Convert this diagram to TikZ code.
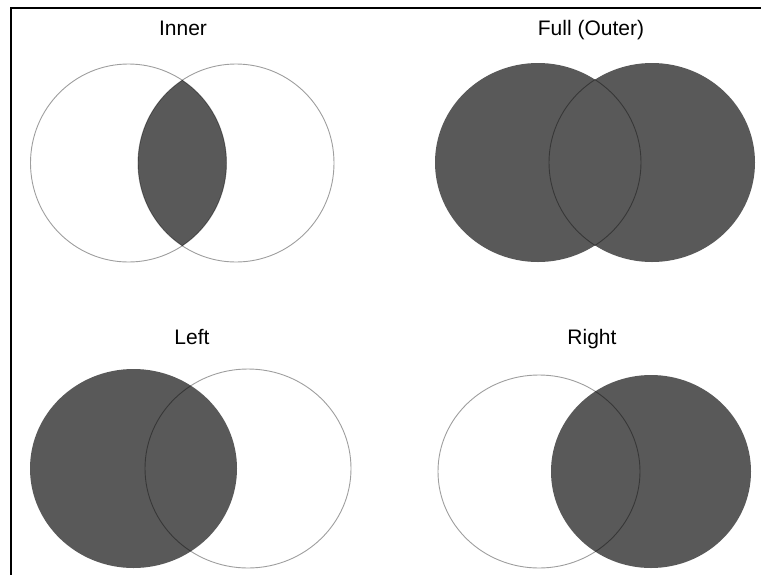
\documentclass[tikz,border=0pt]{standalone}
\usepackage{fontspec}
\setmainfont{Liberation Sans}
\definecolor{venn}{HTML}{595959}
\begin{document}
\begin{tikzpicture}[x=1pt,y=-1pt,
  outl/.style={draw=black,draw opacity=0.38,line width=0.9pt},
  venfill/.style={fill=venn},
  title/.style={anchor=base,inner sep=0pt,font=\fontsize{21}{25}\selectfont}]
\useasboundingbox (0,0) rectangle (761,574);
\fill[white] (0,0) rectangle (761,574);
\draw[line width=2pt] (11,575) -- (11,8.3) -- (762,8.3);
% Inner
\node[title] (tinner) at (183,35) {Inner};
\begin{scope}
  \clip (128.5,163) ellipse [x radius=98, y radius=99];
  \fill[venfill] (236,163) ellipse [x radius=98, y radius=99];
\end{scope}
\draw[outl] (128.5,163) ellipse [x radius=98, y radius=99];
\draw[outl] (236,163) ellipse [x radius=98, y radius=99];
% Full
\node[title] (tfull) at (591,35) {Full (Outer)};
\fill[venfill] (538,162.5) ellipse [x radius=103, y radius=99.5];
\fill[venfill] (652,162.5) ellipse [x radius=103, y radius=99.5];
\begin{scope}
  \clip (652,162.5) ellipse [x radius=103, y radius=99.5];
  \draw[outl] (538,162.5) ellipse [x radius=103, y radius=99.5];
\end{scope}
\begin{scope}
  \clip (538,162.5) ellipse [x radius=103, y radius=99.5];
  \draw[outl] (652,162.5) ellipse [x radius=103, y radius=99.5];
\end{scope}
% Left
\node[title] (tleft) at (192,344) {Left};
\fill[venfill] (133.5,468.5) ellipse [x radius=103.5, y radius=99.5];
\draw[outl] (248,468.5) ellipse [x radius=103, y radius=99.5];
% Right
\node[title] (tright) at (592,344) {Right};
\fill[venfill] (651,471.5) ellipse [x radius=100, y radius=96.5];
\draw[outl] (539,471.5) ellipse [x radius=101, y radius=96.5];
\end{tikzpicture}
\end{document}
